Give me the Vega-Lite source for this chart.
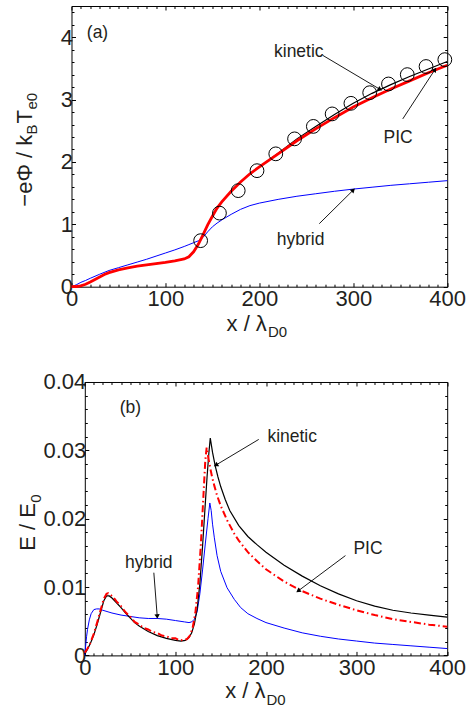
{
  "$schema": "https://vega.github.io/schema/vega-lite/v6.json",
  "background": "white",
  "padding": {"left": 13.5, "top": 5, "right": 5, "bottom": 5},
  "config": {
    "view": {"stroke": "#000", "strokeWidth": 1},
    "font": "Liberation Sans",
    "axis": {"labelFont": "Liberation Sans", "labelFontSize": 22, "labelColor": "#231f20", "tickColor": "#000", "tickWidth": 1, "domain": false, "domainColor": "#000", "domainWidth": 1, "grid": false, "title": null, "labelOverlap": false, "labelFlush": false},
    "text": {"font": "Liberation Sans", "color": "#231f20"}
  },
  "datasets": {
    "phi": [
      {"model": "kinetic", "x": 0, "y": 0}, {"model": "kinetic", "x": 5, "y": 0.003}, {"model": "kinetic", "x": 10, "y": 0.015}, {"model": "kinetic", "x": 15, "y": 0.04}, {"model": "kinetic", "x": 20, "y": 0.075}, {"model": "kinetic", "x": 25, "y": 0.115}, {"model": "kinetic", "x": 30, "y": 0.155}, {"model": "kinetic", "x": 35, "y": 0.195}, {"model": "kinetic", "x": 40, "y": 0.225}, {"model": "kinetic", "x": 50, "y": 0.27}, {"model": "kinetic", "x": 60, "y": 0.3}, {"model": "kinetic", "x": 70, "y": 0.33}, {"model": "kinetic", "x": 80, "y": 0.35}, {"model": "kinetic", "x": 90, "y": 0.37}, {"model": "kinetic", "x": 100, "y": 0.39}, {"model": "kinetic", "x": 110, "y": 0.415}, {"model": "kinetic", "x": 120, "y": 0.445}, {"model": "kinetic", "x": 125, "y": 0.48}, {"model": "kinetic", "x": 130, "y": 0.56}, {"model": "kinetic", "x": 135, "y": 0.68}, {"model": "kinetic", "x": 140, "y": 0.83}, {"model": "kinetic", "x": 145, "y": 0.99}, {"model": "kinetic", "x": 150, "y": 1.13}, {"model": "kinetic", "x": 155, "y": 1.26}, {"model": "kinetic", "x": 160, "y": 1.36}, {"model": "kinetic", "x": 170, "y": 1.53}, {"model": "kinetic", "x": 180, "y": 1.68}, {"model": "kinetic", "x": 190, "y": 1.81}, {"model": "kinetic", "x": 200, "y": 1.92}, {"model": "kinetic", "x": 220, "y": 2.14}, {"model": "kinetic", "x": 240, "y": 2.37}, {"model": "kinetic", "x": 260, "y": 2.57}, {"model": "kinetic", "x": 280, "y": 2.76}, {"model": "kinetic", "x": 300, "y": 2.94}, {"model": "kinetic", "x": 320, "y": 3.1}, {"model": "kinetic", "x": 340, "y": 3.24}, {"model": "kinetic", "x": 360, "y": 3.37}, {"model": "kinetic", "x": 380, "y": 3.49}, {"model": "kinetic", "x": 400, "y": 3.61},
      {"model": "PIC", "x": 0, "y": 0}, {"model": "PIC", "x": 5, "y": 0.003}, {"model": "PIC", "x": 10, "y": 0.015}, {"model": "PIC", "x": 15, "y": 0.04}, {"model": "PIC", "x": 20, "y": 0.075}, {"model": "PIC", "x": 25, "y": 0.115}, {"model": "PIC", "x": 30, "y": 0.155}, {"model": "PIC", "x": 35, "y": 0.195}, {"model": "PIC", "x": 40, "y": 0.225}, {"model": "PIC", "x": 50, "y": 0.27}, {"model": "PIC", "x": 60, "y": 0.3}, {"model": "PIC", "x": 70, "y": 0.33}, {"model": "PIC", "x": 80, "y": 0.35}, {"model": "PIC", "x": 90, "y": 0.37}, {"model": "PIC", "x": 100, "y": 0.39}, {"model": "PIC", "x": 110, "y": 0.415}, {"model": "PIC", "x": 120, "y": 0.445}, {"model": "PIC", "x": 125, "y": 0.48}, {"model": "PIC", "x": 130, "y": 0.56}, {"model": "PIC", "x": 135, "y": 0.68}, {"model": "PIC", "x": 140, "y": 0.83}, {"model": "PIC", "x": 145, "y": 0.99}, {"model": "PIC", "x": 150, "y": 1.13}, {"model": "PIC", "x": 155, "y": 1.26}, {"model": "PIC", "x": 160, "y": 1.36}, {"model": "PIC", "x": 170, "y": 1.53}, {"model": "PIC", "x": 180, "y": 1.68}, {"model": "PIC", "x": 190, "y": 1.81}, {"model": "PIC", "x": 200, "y": 1.92}, {"model": "PIC", "x": 220, "y": 2.13}, {"model": "PIC", "x": 240, "y": 2.34}, {"model": "PIC", "x": 260, "y": 2.53}, {"model": "PIC", "x": 280, "y": 2.71}, {"model": "PIC", "x": 300, "y": 2.88}, {"model": "PIC", "x": 320, "y": 3.03}, {"model": "PIC", "x": 340, "y": 3.17}, {"model": "PIC", "x": 360, "y": 3.3}, {"model": "PIC", "x": 380, "y": 3.43}, {"model": "PIC", "x": 400, "y": 3.55},
      {"model": "hybrid", "x": 0, "y": 0}, {"model": "hybrid", "x": 5, "y": 0.03}, {"model": "hybrid", "x": 10, "y": 0.07}, {"model": "hybrid", "x": 15, "y": 0.1}, {"model": "hybrid", "x": 20, "y": 0.135}, {"model": "hybrid", "x": 30, "y": 0.2}, {"model": "hybrid", "x": 40, "y": 0.26}, {"model": "hybrid", "x": 50, "y": 0.305}, {"model": "hybrid", "x": 60, "y": 0.35}, {"model": "hybrid", "x": 70, "y": 0.395}, {"model": "hybrid", "x": 80, "y": 0.44}, {"model": "hybrid", "x": 90, "y": 0.49}, {"model": "hybrid", "x": 100, "y": 0.54}, {"model": "hybrid", "x": 110, "y": 0.59}, {"model": "hybrid", "x": 120, "y": 0.645}, {"model": "hybrid", "x": 125, "y": 0.675}, {"model": "hybrid", "x": 130, "y": 0.705}, {"model": "hybrid", "x": 135, "y": 0.735}, {"model": "hybrid", "x": 140, "y": 0.79}, {"model": "hybrid", "x": 145, "y": 0.88}, {"model": "hybrid", "x": 150, "y": 0.96}, {"model": "hybrid", "x": 155, "y": 1.02}, {"model": "hybrid", "x": 160, "y": 1.07}, {"model": "hybrid", "x": 170, "y": 1.16}, {"model": "hybrid", "x": 180, "y": 1.24}, {"model": "hybrid", "x": 190, "y": 1.3}, {"model": "hybrid", "x": 200, "y": 1.34}, {"model": "hybrid", "x": 220, "y": 1.4}, {"model": "hybrid", "x": 240, "y": 1.45}, {"model": "hybrid", "x": 260, "y": 1.49}, {"model": "hybrid", "x": 280, "y": 1.53}, {"model": "hybrid", "x": 300, "y": 1.565}, {"model": "hybrid", "x": 320, "y": 1.595}, {"model": "hybrid", "x": 340, "y": 1.625}, {"model": "hybrid", "x": 360, "y": 1.65}, {"model": "hybrid", "x": 380, "y": 1.675}, {"model": "hybrid", "x": 400, "y": 1.7}
    ],
    "circles": [
      {"x": 137.5, "y": 0.738}, {"x": 157.5, "y": 1.18}, {"x": 177.5, "y": 1.54}, {"x": 197.5, "y": 1.86}, {"x": 217.5, "y": 2.13}, {"x": 237.5, "y": 2.37}, {"x": 257.5, "y": 2.57}, {"x": 277.5, "y": 2.77}, {"x": 297.5, "y": 2.94}, {"x": 317.5, "y": 3.11}, {"x": 337.5, "y": 3.25}, {"x": 357.5, "y": 3.4}, {"x": 377.5, "y": 3.53}, {"x": 397.5, "y": 3.64}
    ],
    "efield": [
      {"model": "kinetic", "x": 0, "y": 0.0002}, {"model": "kinetic", "x": 3, "y": 0.0009}, {"model": "kinetic", "x": 6, "y": 0.0017}, {"model": "kinetic", "x": 10, "y": 0.003}, {"model": "kinetic", "x": 14, "y": 0.0047}, {"model": "kinetic", "x": 18, "y": 0.0066}, {"model": "kinetic", "x": 21, "y": 0.008}, {"model": "kinetic", "x": 24, "y": 0.0087}, {"model": "kinetic", "x": 27, "y": 0.0087}, {"model": "kinetic", "x": 30, "y": 0.0084}, {"model": "kinetic", "x": 35, "y": 0.0077}, {"model": "kinetic", "x": 40, "y": 0.007}, {"model": "kinetic", "x": 45, "y": 0.0062}, {"model": "kinetic", "x": 50, "y": 0.0055}, {"model": "kinetic", "x": 55, "y": 0.0048}, {"model": "kinetic", "x": 60, "y": 0.0043}, {"model": "kinetic", "x": 70, "y": 0.0035}, {"model": "kinetic", "x": 80, "y": 0.0029}, {"model": "kinetic", "x": 90, "y": 0.0025}, {"model": "kinetic", "x": 100, "y": 0.0022}, {"model": "kinetic", "x": 106, "y": 0.0021}, {"model": "kinetic", "x": 111, "y": 0.0022}, {"model": "kinetic", "x": 115, "y": 0.0026}, {"model": "kinetic", "x": 118, "y": 0.0033}, {"model": "kinetic", "x": 121, "y": 0.0046}, {"model": "kinetic", "x": 124, "y": 0.0068}, {"model": "kinetic", "x": 127, "y": 0.0105}, {"model": "kinetic", "x": 130, "y": 0.016}, {"model": "kinetic", "x": 133, "y": 0.0222}, {"model": "kinetic", "x": 135, "y": 0.0262}, {"model": "kinetic", "x": 137, "y": 0.0297}, {"model": "kinetic", "x": 138.5, "y": 0.0318}, {"model": "kinetic", "x": 141, "y": 0.0297}, {"model": "kinetic", "x": 144, "y": 0.0277}, {"model": "kinetic", "x": 147, "y": 0.0261}, {"model": "kinetic", "x": 150, "y": 0.0247}, {"model": "kinetic", "x": 155, "y": 0.0228}, {"model": "kinetic", "x": 160, "y": 0.0212}, {"model": "kinetic", "x": 170, "y": 0.019}, {"model": "kinetic", "x": 180, "y": 0.0174}, {"model": "kinetic", "x": 190, "y": 0.0162}, {"model": "kinetic", "x": 200, "y": 0.0151}, {"model": "kinetic", "x": 220, "y": 0.0132}, {"model": "kinetic", "x": 240, "y": 0.0116}, {"model": "kinetic", "x": 260, "y": 0.0102}, {"model": "kinetic", "x": 280, "y": 0.009}, {"model": "kinetic", "x": 300, "y": 0.008}, {"model": "kinetic", "x": 320, "y": 0.0072}, {"model": "kinetic", "x": 340, "y": 0.0066}, {"model": "kinetic", "x": 360, "y": 0.0062}, {"model": "kinetic", "x": 380, "y": 0.0059}, {"model": "kinetic", "x": 400, "y": 0.0056},
      {"model": "PIC", "x": 0, "y": 0.0004}, {"model": "PIC", "x": 3, "y": 0.001}, {"model": "PIC", "x": 6, "y": 0.0018}, {"model": "PIC", "x": 10, "y": 0.0032}, {"model": "PIC", "x": 14, "y": 0.005}, {"model": "PIC", "x": 18, "y": 0.0069}, {"model": "PIC", "x": 21, "y": 0.0083}, {"model": "PIC", "x": 24, "y": 0.009}, {"model": "PIC", "x": 26, "y": 0.0091}, {"model": "PIC", "x": 28, "y": 0.0089}, {"model": "PIC", "x": 31, "y": 0.0086}, {"model": "PIC", "x": 35, "y": 0.0079}, {"model": "PIC", "x": 40, "y": 0.0072}, {"model": "PIC", "x": 45, "y": 0.0063}, {"model": "PIC", "x": 50, "y": 0.0057}, {"model": "PIC", "x": 55, "y": 0.0049}, {"model": "PIC", "x": 60, "y": 0.0045}, {"model": "PIC", "x": 65, "y": 0.004}, {"model": "PIC", "x": 70, "y": 0.0038}, {"model": "PIC", "x": 75, "y": 0.0034}, {"model": "PIC", "x": 80, "y": 0.0033}, {"model": "PIC", "x": 85, "y": 0.0029}, {"model": "PIC", "x": 90, "y": 0.0028}, {"model": "PIC", "x": 95, "y": 0.0025}, {"model": "PIC", "x": 100, "y": 0.0025}, {"model": "PIC", "x": 105, "y": 0.0022}, {"model": "PIC", "x": 110, "y": 0.0023}, {"model": "PIC", "x": 113, "y": 0.0024}, {"model": "PIC", "x": 116, "y": 0.0029}, {"model": "PIC", "x": 119, "y": 0.004}, {"model": "PIC", "x": 122, "y": 0.0062}, {"model": "PIC", "x": 125, "y": 0.01}, {"model": "PIC", "x": 128, "y": 0.016}, {"model": "PIC", "x": 131, "y": 0.0235}, {"model": "PIC", "x": 133, "y": 0.0285}, {"model": "PIC", "x": 134.5, "y": 0.0304}, {"model": "PIC", "x": 136, "y": 0.0292}, {"model": "PIC", "x": 138, "y": 0.0277}, {"model": "PIC", "x": 140.5, "y": 0.0261}, {"model": "PIC", "x": 143, "y": 0.0248}, {"model": "PIC", "x": 146, "y": 0.0234}, {"model": "PIC", "x": 150, "y": 0.0219}, {"model": "PIC", "x": 157, "y": 0.0198}, {"model": "PIC", "x": 165, "y": 0.0178}, {"model": "PIC", "x": 170, "y": 0.0168}, {"model": "PIC", "x": 180, "y": 0.0151}, {"model": "PIC", "x": 190, "y": 0.0138}, {"model": "PIC", "x": 200, "y": 0.0126}, {"model": "PIC", "x": 220, "y": 0.0108}, {"model": "PIC", "x": 240, "y": 0.0094}, {"model": "PIC", "x": 260, "y": 0.0083}, {"model": "PIC", "x": 280, "y": 0.0074}, {"model": "PIC", "x": 300, "y": 0.0066}, {"model": "PIC", "x": 320, "y": 0.0059}, {"model": "PIC", "x": 340, "y": 0.0053}, {"model": "PIC", "x": 360, "y": 0.0049}, {"model": "PIC", "x": 380, "y": 0.0045}, {"model": "PIC", "x": 400, "y": 0.0042},
      {"model": "hybrid", "x": 0, "y": 0}, {"model": "hybrid", "x": 1, "y": 0.0015}, {"model": "hybrid", "x": 2, "y": 0.0028}, {"model": "hybrid", "x": 3, "y": 0.0038}, {"model": "hybrid", "x": 5, "y": 0.0052}, {"model": "hybrid", "x": 7, "y": 0.0061}, {"model": "hybrid", "x": 10, "y": 0.0067}, {"model": "hybrid", "x": 13, "y": 0.0068}, {"model": "hybrid", "x": 16, "y": 0.0068}, {"model": "hybrid", "x": 20, "y": 0.0066}, {"model": "hybrid", "x": 30, "y": 0.0062}, {"model": "hybrid", "x": 40, "y": 0.0059}, {"model": "hybrid", "x": 50, "y": 0.0057}, {"model": "hybrid", "x": 60, "y": 0.0055}, {"model": "hybrid", "x": 70, "y": 0.0054}, {"model": "hybrid", "x": 80, "y": 0.0054}, {"model": "hybrid", "x": 90, "y": 0.0053}, {"model": "hybrid", "x": 100, "y": 0.0051}, {"model": "hybrid", "x": 110, "y": 0.0049}, {"model": "hybrid", "x": 115, "y": 0.0048}, {"model": "hybrid", "x": 118, "y": 0.0049}, {"model": "hybrid", "x": 121, "y": 0.0053}, {"model": "hybrid", "x": 124, "y": 0.0064}, {"model": "hybrid", "x": 127, "y": 0.009}, {"model": "hybrid", "x": 130, "y": 0.0125}, {"model": "hybrid", "x": 133, "y": 0.0163}, {"model": "hybrid", "x": 136, "y": 0.02}, {"model": "hybrid", "x": 138, "y": 0.0223}, {"model": "hybrid", "x": 139.5, "y": 0.0212}, {"model": "hybrid", "x": 141, "y": 0.0192}, {"model": "hybrid", "x": 143, "y": 0.0172}, {"model": "hybrid", "x": 146, "y": 0.0146}, {"model": "hybrid", "x": 150, "y": 0.0123}, {"model": "hybrid", "x": 157, "y": 0.0099}, {"model": "hybrid", "x": 165, "y": 0.0082}, {"model": "hybrid", "x": 172, "y": 0.007}, {"model": "hybrid", "x": 180, "y": 0.0061}, {"model": "hybrid", "x": 190, "y": 0.0054}, {"model": "hybrid", "x": 200, "y": 0.0048}, {"model": "hybrid", "x": 220, "y": 0.004}, {"model": "hybrid", "x": 240, "y": 0.0033}, {"model": "hybrid", "x": 260, "y": 0.0028}, {"model": "hybrid", "x": 280, "y": 0.0024}, {"model": "hybrid", "x": 300, "y": 0.0021}, {"model": "hybrid", "x": 320, "y": 0.0018}, {"model": "hybrid", "x": 340, "y": 0.0016}, {"model": "hybrid", "x": 360, "y": 0.0014}, {"model": "hybrid", "x": 380, "y": 0.0012}, {"model": "hybrid", "x": 400, "y": 0.001}
    ],
    "notes": [
      {"panel": "a", "x": 27.7, "y": 4.06, "text": "(a)"},
      {"panel": "a", "x": 242, "y": 3.77, "text": "kinetic"},
      {"panel": "a", "x": 347.7, "y": 2.39, "text": "PIC"},
      {"panel": "a", "x": 244, "y": 0.75, "text": "hybrid"},
      {"panel": "b", "x": 50.4, "y": 0.0362, "text": "(b)"},
      {"panel": "b", "x": 228.9, "y": 0.0319, "text": "kinetic"},
      {"panel": "b", "x": 312.6, "y": 0.0155, "text": "PIC"},
      {"panel": "b", "x": 70.6, "y": 0.0135, "text": "hybrid"}
    ],
    "arrows": [
      {"panel": "a", "label": "kinetic", "x": 267.4, "y": 3.71, "x2": 327.8, "y2": 3.17},
      {"panel": "a", "label": "PIC", "x": 352.7, "y": 2.69, "x2": 386.5, "y2": 3.47},
      {"panel": "a", "label": "hybrid", "x": 263.8, "y": 1.01, "x2": 299.4, "y2": 1.54},
      {"panel": "b", "label": "kinetic", "x": 192, "y": 0.0316, "x2": 145.4, "y2": 0.0279},
      {"panel": "b", "label": "PIC", "x": 287.7, "y": 0.0146, "x2": 236.2, "y2": 0.0095},
      {"panel": "b", "label": "hybrid", "x": 76.2, "y": 0.0121, "x2": 79.9, "y2": 0.0058}
    ],
    "titles": [
      {"panel": "a", "dir": "h", "role": "main", "x": 208, "y": -0.706, "text": "x / λ"},
      {"panel": "a", "dir": "h", "role": "sub", "x": 209.1, "y": -0.802, "text": "D0"},
      {"panel": "a", "dir": "v", "role": "main", "x": -41.6, "y": 1.2835, "text": "−eΦ / k"},
      {"panel": "a", "dir": "v", "role": "sub", "x": -36.3, "y": 2.4386, "text": "B"},
      {"panel": "a", "dir": "v", "role": "main", "x": -41.6, "y": 2.6151, "text": "T"},
      {"panel": "a", "dir": "v", "role": "sub", "x": -36.3, "y": 2.8397, "text": "e0"},
      {"panel": "b", "dir": "h", "role": "main", "x": 199.4, "y": -0.00619, "text": "x / λ"},
      {"panel": "b", "dir": "h", "role": "sub", "x": 200.5, "y": -0.00721, "text": "D0"},
      {"panel": "b", "dir": "v", "role": "main", "x": -55.5, "y": 0.01532, "text": "E / E"},
      {"panel": "b", "dir": "v", "role": "sub", "x": -48.0, "y": 0.02234, "text": "0"}
    ]
  },
  "vconcat": [
    {
      "width": 375.7,
      "height": 280.7,
      "resolve": {"axis": {"x": "independent", "y": "independent"}},
      "layer": [
        {
          "data": {"name": "phi"},
          "transform": [{"filter": "datum.model === 'hybrid'"}],
          "mark": {"type": "line", "color": "#0000ff", "strokeWidth": 1},
          "encoding": {
            "x": {"field": "x", "type": "quantitative", "scale": {"domain": [0, 400], "nice": false, "zero": false}, "axis": {"orient": "bottom", "values": [0, 100, 200, 300, 400], "tickSize": -4, "labelPadding": 6}},
            "y": {"field": "y", "type": "quantitative", "scale": {"domain": [0, 4.5], "nice": false, "zero": false}, "axis": {"orient": "left", "values": [0, 1, 2, 3, 4], "tickSize": -4, "labelPadding": 3}}
          }
        },
        {
          "data": {"name": "phi"},
          "transform": [{"filter": "datum.model === 'kinetic'"}],
          "mark": {"type": "line", "color": "#000", "strokeWidth": 1.2},
          "encoding": {
            "x": {"field": "x", "type": "quantitative", "scale": {"domain": [0, 400], "nice": false, "zero": false}, "axis": {"orient": "bottom", "values": [10, 20, 30, 40, 50, 60, 70, 80, 90, 110, 120, 130, 140, 150, 160, 170, 180, 190, 210, 220, 230, 240, 250, 260, 270, 280, 290, 310, 320, 330, 340, 350, 360, 370, 380, 390], "tickSize": -2.5, "labels": false}},
            "y": {"field": "y", "type": "quantitative", "scale": {"domain": [0, 4.5], "nice": false, "zero": false}, "axis": {"orient": "left", "values": [0.2, 0.4, 0.6, 0.8, 1.2, 1.4, 1.6, 1.8, 2.2, 2.4, 2.6, 2.8, 3.2, 3.4, 3.6, 3.8, 4.2, 4.4], "tickSize": -2.5, "labels": false}}
          }
        },
        {
          "data": {"name": "phi"},
          "transform": [{"filter": "datum.model === 'PIC'"}],
          "mark": {"type": "line", "color": "#ff0000", "strokeWidth": 2.8},
          "encoding": {
            "x": {"field": "x", "type": "quantitative", "scale": {"domain": [0, 400], "nice": false, "zero": false}, "axis": {"orient": "top", "values": [0, 100, 200, 300, 400], "tickSize": -4, "labels": false}},
            "y": {"field": "y", "type": "quantitative", "scale": {"domain": [0, 4.5], "nice": false, "zero": false}, "axis": {"orient": "right", "values": [0, 1, 2, 3, 4], "tickSize": -4, "labels": false}}
          }
        },
        {
          "data": {"name": "circles"},
          "mark": {"type": "point", "shape": "circle", "filled": false, "stroke": "#000", "strokeWidth": 1, "size": 190, "opacity": 1},
          "encoding": {
            "x": {"field": "x", "type": "quantitative", "scale": {"domain": [0, 400], "nice": false, "zero": false}, "axis": {"orient": "top", "values": [10, 20, 30, 40, 50, 60, 70, 80, 90, 110, 120, 130, 140, 150, 160, 170, 180, 190, 210, 220, 230, 240, 250, 260, 270, 280, 290, 310, 320, 330, 340, 350, 360, 370, 380, 390], "tickSize": -2.5, "labels": false}},
            "y": {"field": "y", "type": "quantitative", "scale": {"domain": [0, 4.5], "nice": false, "zero": false}, "axis": {"orient": "right", "values": [0.2, 0.4, 0.6, 0.8, 1.2, 1.4, 1.6, 1.8, 2.2, 2.4, 2.6, 2.8, 3.2, 3.4, 3.6, 3.8, 4.2, 4.4], "tickSize": -2.5, "labels": false}}
          }
        },
        {
          "data": {"name": "arrows"},
          "transform": [{"filter": "datum.panel === 'a'"}],
          "mark": {"type": "rule", "color": "#000", "strokeWidth": 0.9},
          "encoding": {
            "x": {"field": "x", "type": "quantitative", "scale": {"domain": [0, 400], "nice": false, "zero": false}, "axis": null},
            "y": {"field": "y", "type": "quantitative", "scale": {"domain": [0, 4.5], "nice": false, "zero": false}, "axis": null},
            "x2": {"field": "x2"},
            "y2": {"field": "y2"}
          }
        },
        {
          "data": {"name": "arrows"},
          "transform": [{"filter": "datum.panel === 'a' && datum.label === 'kinetic'"}],
          "mark": {"type": "point", "shape": "triangle", "filled": true, "color": "#000", "size": 28, "angle": 120.5, "opacity": 1},
          "encoding": {
            "x": {"field": "x2", "type": "quantitative", "scale": {"domain": [0, 400], "nice": false, "zero": false}, "axis": null},
            "y": {"field": "y2", "type": "quantitative", "scale": {"domain": [0, 4.5], "nice": false, "zero": false}, "axis": null}
          }
        },
        {
          "data": {"name": "arrows"},
          "transform": [{"filter": "datum.panel === 'a' && datum.label === 'PIC'"}],
          "mark": {"type": "point", "shape": "triangle", "filled": true, "color": "#000", "size": 28, "angle": 33.2, "opacity": 1},
          "encoding": {
            "x": {"field": "x2", "type": "quantitative", "scale": {"domain": [0, 400], "nice": false, "zero": false}, "axis": null},
            "y": {"field": "y2", "type": "quantitative", "scale": {"domain": [0, 4.5], "nice": false, "zero": false}, "axis": null}
          }
        },
        {
          "data": {"name": "arrows"},
          "transform": [{"filter": "datum.panel === 'a' && datum.label === 'hybrid'"}],
          "mark": {"type": "point", "shape": "triangle", "filled": true, "color": "#000", "size": 28, "angle": 45, "opacity": 1},
          "encoding": {
            "x": {"field": "x2", "type": "quantitative", "scale": {"domain": [0, 400], "nice": false, "zero": false}, "axis": null},
            "y": {"field": "y2", "type": "quantitative", "scale": {"domain": [0, 4.5], "nice": false, "zero": false}, "axis": null}
          }
        },
        {
          "data": {"name": "notes"},
          "transform": [{"filter": "datum.panel === 'a'"}],
          "mark": {"type": "text", "fontSize": 17.5, "align": "center", "baseline": "middle"},
          "encoding": {
            "x": {"field": "x", "type": "quantitative", "scale": {"domain": [0, 400], "nice": false, "zero": false}, "axis": null},
            "y": {"field": "y", "type": "quantitative", "scale": {"domain": [0, 4.5], "nice": false, "zero": false}, "axis": null},
            "text": {"field": "text"}
          }
        },
        {
          "data": {"name": "titles"},
          "transform": [{"filter": "datum.panel === 'a' && datum.dir === 'h' && datum.role === 'main'"}],
          "mark": {"type": "text", "fontSize": 22, "align": "right", "baseline": "alphabetic"},
          "encoding": {
            "x": {"field": "x", "type": "quantitative", "scale": {"domain": [0, 400], "nice": false, "zero": false}, "axis": null},
            "y": {"field": "y", "type": "quantitative", "scale": {"domain": [0, 4.5], "nice": false, "zero": false}, "axis": null},
            "text": {"field": "text"}
          }
        },
        {
          "data": {"name": "titles"},
          "transform": [{"filter": "datum.panel === 'a' && datum.dir === 'h' && datum.role === 'sub'"}],
          "mark": {"type": "text", "fontSize": 15, "align": "left", "baseline": "alphabetic"},
          "encoding": {
            "x": {"field": "x", "type": "quantitative", "scale": {"domain": [0, 400], "nice": false, "zero": false}, "axis": null},
            "y": {"field": "y", "type": "quantitative", "scale": {"domain": [0, 4.5], "nice": false, "zero": false}, "axis": null},
            "text": {"field": "text"}
          }
        },
        {
          "data": {"name": "titles"},
          "transform": [{"filter": "datum.panel === 'a' && datum.dir === 'v' && datum.role === 'main'"}],
          "mark": {"type": "text", "fontSize": 22, "align": "left", "baseline": "alphabetic", "angle": 270},
          "encoding": {
            "x": {"field": "x", "type": "quantitative", "scale": {"domain": [0, 400], "nice": false, "zero": false}, "axis": null},
            "y": {"field": "y", "type": "quantitative", "scale": {"domain": [0, 4.5], "nice": false, "zero": false}, "axis": null},
            "text": {"field": "text"}
          }
        },
        {
          "data": {"name": "titles"},
          "transform": [{"filter": "datum.panel === 'a' && datum.dir === 'v' && datum.role === 'sub'"}],
          "mark": {"type": "text", "fontSize": 15, "align": "left", "baseline": "alphabetic", "angle": 270},
          "encoding": {
            "x": {"field": "x", "type": "quantitative", "scale": {"domain": [0, 400], "nice": false, "zero": false}, "axis": null},
            "y": {"field": "y", "type": "quantitative", "scale": {"domain": [0, 4.5], "nice": false, "zero": false}, "axis": null},
            "text": {"field": "text"}
          }
        }
      ]
    },
    {
      "width": 375.7,
      "height": 273.4,
      "view": {"stroke": null},
      "resolve": {"axis": {"x": "independent", "y": "independent"}},
      "layer": [
        {
          "data": {"name": "efield"},
          "transform": [{"filter": "datum.model === 'hybrid'"}],
          "mark": {"type": "line", "color": "#0000ff", "strokeWidth": 1},
          "encoding": {
            "x": {"field": "x", "type": "quantitative", "scale": {"domain": [0, 400], "range": [13.3, 375.7], "nice": false, "zero": false}, "axis": {"orient": "bottom", "values": [0, 100, 200, 300, 400], "tickSize": -4, "labelPadding": 6, "domain": true}},
            "y": {"field": "y", "type": "quantitative", "scale": {"domain": [0, 0.04], "nice": false, "zero": false}, "axis": {"orient": "left", "offset": -13.3, "values": [0, 0.01, 0.02, 0.03, 0.04], "format": ".2~f", "tickSize": -4, "labelPadding": 3, "domain": true}}
          }
        },
        {
          "data": {"name": "efield"},
          "transform": [{"filter": "datum.model === 'kinetic'"}],
          "mark": {"type": "line", "color": "#000", "strokeWidth": 1.2},
          "encoding": {
            "x": {"field": "x", "type": "quantitative", "scale": {"domain": [0, 400], "range": [13.3, 375.7], "nice": false, "zero": false}, "axis": {"orient": "bottom", "values": [10, 20, 30, 40, 50, 60, 70, 80, 90, 110, 120, 130, 140, 150, 160, 170, 180, 190, 210, 220, 230, 240, 250, 260, 270, 280, 290, 310, 320, 330, 340, 350, 360, 370, 380, 390], "tickSize": -2.5, "labels": false}},
            "y": {"field": "y", "type": "quantitative", "scale": {"domain": [0, 0.04], "nice": false, "zero": false}, "axis": {"orient": "left", "offset": -13.3, "values": [0.002, 0.004, 0.006, 0.008, 0.012, 0.014, 0.016, 0.018, 0.022, 0.024, 0.026, 0.028, 0.032, 0.034, 0.036, 0.038], "tickSize": -2.5, "labels": false}}
          }
        },
        {
          "data": {"name": "efield"},
          "transform": [{"filter": "datum.model === 'PIC'"}],
          "mark": {"type": "line", "color": "#ff0000", "strokeWidth": 2, "strokeDash": [7, 3, 1.5, 3]},
          "encoding": {
            "x": {"field": "x", "type": "quantitative", "scale": {"domain": [0, 400], "range": [13.3, 375.7], "nice": false, "zero": false}, "axis": {"orient": "top", "values": [0, 100, 200, 300, 400], "tickSize": -4, "labels": false, "domain": true}},
            "y": {"field": "y", "type": "quantitative", "scale": {"domain": [0, 0.04], "nice": false, "zero": false}, "axis": {"orient": "right", "values": [0, 0.01, 0.02, 0.03, 0.04], "tickSize": -4, "labels": false, "domain": true}}
          }
        },
        {
          "data": {"name": "arrows"},
          "transform": [{"filter": "datum.panel === 'b'"}],
          "mark": {"type": "rule", "color": "#000", "strokeWidth": 0.9},
          "encoding": {
            "x": {"field": "x", "type": "quantitative", "scale": {"domain": [0, 400], "range": [13.3, 375.7], "nice": false, "zero": false}, "axis": {"orient": "top", "values": [10, 20, 30, 40, 50, 60, 70, 80, 90, 110, 120, 130, 140, 150, 160, 170, 180, 190, 210, 220, 230, 240, 250, 260, 270, 280, 290, 310, 320, 330, 340, 350, 360, 370, 380, 390], "tickSize": -2.5, "labels": false}},
            "y": {"field": "y", "type": "quantitative", "scale": {"domain": [0, 0.04], "nice": false, "zero": false}, "axis": {"orient": "right", "values": [0.002, 0.004, 0.006, 0.008, 0.012, 0.014, 0.016, 0.018, 0.022, 0.024, 0.026, 0.028, 0.032, 0.034, 0.036, 0.038], "tickSize": -2.5, "labels": false}},
            "x2": {"field": "x2"},
            "y2": {"field": "y2"}
          }
        },
        {
          "data": {"name": "arrows"},
          "transform": [{"filter": "datum.panel === 'b' && datum.label === 'kinetic'"}],
          "mark": {"type": "point", "shape": "triangle", "filled": true, "color": "#000", "size": 28, "angle": 239.4, "opacity": 1},
          "encoding": {
            "x": {"field": "x2", "type": "quantitative", "scale": {"domain": [0, 400], "range": [13.3, 375.7], "nice": false, "zero": false}, "axis": null},
            "y": {"field": "y2", "type": "quantitative", "scale": {"domain": [0, 0.04], "nice": false, "zero": false}, "axis": null}
          }
        },
        {
          "data": {"name": "arrows"},
          "transform": [{"filter": "datum.panel === 'b' && datum.label === 'PIC'"}],
          "mark": {"type": "point", "shape": "triangle", "filled": true, "color": "#000", "size": 28, "angle": 233.4, "opacity": 1},
          "encoding": {
            "x": {"field": "x2", "type": "quantitative", "scale": {"domain": [0, 400], "range": [13.3, 375.7], "nice": false, "zero": false}, "axis": null},
            "y": {"field": "y2", "type": "quantitative", "scale": {"domain": [0, 0.04], "nice": false, "zero": false}, "axis": null}
          }
        },
        {
          "data": {"name": "arrows"},
          "transform": [{"filter": "datum.panel === 'b' && datum.label === 'hybrid'"}],
          "mark": {"type": "point", "shape": "triangle", "filled": true, "color": "#000", "size": 28, "angle": 175.5, "opacity": 1},
          "encoding": {
            "x": {"field": "x2", "type": "quantitative", "scale": {"domain": [0, 400], "range": [13.3, 375.7], "nice": false, "zero": false}, "axis": null},
            "y": {"field": "y2", "type": "quantitative", "scale": {"domain": [0, 0.04], "nice": false, "zero": false}, "axis": null}
          }
        },
        {
          "data": {"name": "notes"},
          "transform": [{"filter": "datum.panel === 'b'"}],
          "mark": {"type": "text", "fontSize": 17.5, "align": "center", "baseline": "middle"},
          "encoding": {
            "x": {"field": "x", "type": "quantitative", "scale": {"domain": [0, 400], "range": [13.3, 375.7], "nice": false, "zero": false}, "axis": null},
            "y": {"field": "y", "type": "quantitative", "scale": {"domain": [0, 0.04], "nice": false, "zero": false}, "axis": null},
            "text": {"field": "text"}
          }
        },
        {
          "data": {"name": "titles"},
          "transform": [{"filter": "datum.panel === 'b' && datum.dir === 'h' && datum.role === 'main'"}],
          "mark": {"type": "text", "fontSize": 22, "align": "right", "baseline": "alphabetic"},
          "encoding": {
            "x": {"field": "x", "type": "quantitative", "scale": {"domain": [0, 400], "range": [13.3, 375.7], "nice": false, "zero": false}, "axis": null},
            "y": {"field": "y", "type": "quantitative", "scale": {"domain": [0, 0.04], "nice": false, "zero": false}, "axis": null},
            "text": {"field": "text"}
          }
        },
        {
          "data": {"name": "titles"},
          "transform": [{"filter": "datum.panel === 'b' && datum.dir === 'h' && datum.role === 'sub'"}],
          "mark": {"type": "text", "fontSize": 15, "align": "left", "baseline": "alphabetic"},
          "encoding": {
            "x": {"field": "x", "type": "quantitative", "scale": {"domain": [0, 400], "range": [13.3, 375.7], "nice": false, "zero": false}, "axis": null},
            "y": {"field": "y", "type": "quantitative", "scale": {"domain": [0, 0.04], "nice": false, "zero": false}, "axis": null},
            "text": {"field": "text"}
          }
        },
        {
          "data": {"name": "titles"},
          "transform": [{"filter": "datum.panel === 'b' && datum.dir === 'v' && datum.role === 'main'"}],
          "mark": {"type": "text", "fontSize": 22, "align": "left", "baseline": "alphabetic", "angle": 270},
          "encoding": {
            "x": {"field": "x", "type": "quantitative", "scale": {"domain": [0, 400], "range": [13.3, 375.7], "nice": false, "zero": false}, "axis": null},
            "y": {"field": "y", "type": "quantitative", "scale": {"domain": [0, 0.04], "nice": false, "zero": false}, "axis": null},
            "text": {"field": "text"}
          }
        },
        {
          "data": {"name": "titles"},
          "transform": [{"filter": "datum.panel === 'b' && datum.dir === 'v' && datum.role === 'sub'"}],
          "mark": {"type": "text", "fontSize": 15, "align": "left", "baseline": "alphabetic", "angle": 270},
          "encoding": {
            "x": {"field": "x", "type": "quantitative", "scale": {"domain": [0, 400], "range": [13.3, 375.7], "nice": false, "zero": false}, "axis": null},
            "y": {"field": "y", "type": "quantitative", "scale": {"domain": [0, 0.04], "nice": false, "zero": false}, "axis": null},
            "text": {"field": "text"}
          }
        }
      ]
    }
  ],
  "spacing": 30
}
